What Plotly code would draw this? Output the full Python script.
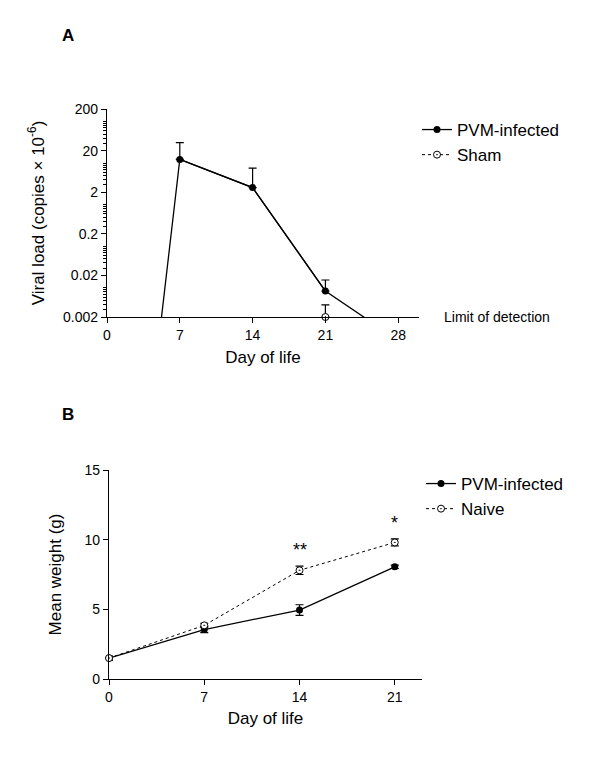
import plotly.graph_objects as go
import numpy as np

# ---------------- Panel A data ----------------
days_a = [0, 7, 14, 21, 28]
pvm_load = [1e-14, 12.3, 2.58, 0.0084, 0.00055]      # copies x 10^-6
pvm_load_err = [0, 18.7, 5.0, 0.0071, 0]
sham_days = [21]
sham_load = [0.002]
sham_load_err = [0.0019]
detection_limit = 0.002
a_ticks = [0.002, 0.02, 0.2, 2, 20, 200]
a_ticktext = ["0.002", "0.02", "0.2", "2", "20", "200"]
a_xticks = [0, 7, 14, 21, 28]

# ---------------- Panel B data ----------------
days_b = [0, 7, 14, 21]
pvm_weight = [1.5, 3.55, 4.95, 8.05]
pvm_weight_err = [0.15, 0.22, 0.38, 0.12]
naive_weight = [1.5, 3.85, 7.8, 9.8]
naive_weight_err = [0.12, 0.15, 0.3, 0.25]
sig_labels = ["", "", "**", "*"]
b_yticks = [0, 5, 10, 15]
b_xticks = [0, 7, 14, 21]

FONT = "Liberation Sans, Arial, sans-serif"
W, H = 600, 759
PAGE_OFFSET = 8  # default page margin around the plot div

def px_x(p):
    return (p - PAGE_OFFSET) / W

def px_y(p):
    return 1 - (p - PAGE_OFFSET) / H

fig = go.Figure()

# ---- Panel A ----
fig.add_trace(go.Scatter(x=days_a, y=pvm_load, mode="lines",
                         line=dict(color="black", width=1.3),
                         xaxis="x", yaxis="y", showlegend=False, hoverinfo="skip"))
idx = [i for i, v in enumerate(pvm_load) if v >= detection_limit]
fig.add_trace(go.Scatter(x=[days_a[i] for i in idx], y=[pvm_load[i] for i in idx],
                         mode="lines+markers", name="PVM-infected",
                         line=dict(color="black", width=1.3),
                         marker=dict(symbol="circle", size=7, color="black"),
                         error_y=dict(type="data", symmetric=False,
                                      array=[pvm_load_err[i] for i in idx],
                                      arrayminus=[0] * len(idx),
                                      color="black", thickness=1.2, width=4),
                         cliponaxis=False, xaxis="x", yaxis="y", legend="legend"))
fig.add_trace(go.Scatter(x=sham_days, y=sham_load, mode="lines+markers", name="Sham",
                         line=dict(color="black", width=1, dash="3px,3px"),
                         marker=dict(symbol="circle-dot", size=7, color="white",
                                     line=dict(color="black", width=1)),
                         error_y=dict(type="data", symmetric=False, array=sham_load_err,
                                      arrayminus=[0] * len(sham_load), color="black",
                                      thickness=1.2, width=4),
                         cliponaxis=False, xaxis="x", yaxis="y", legend="legend"))

# ---- Panel B ----
fig.add_trace(go.Scatter(x=days_b, y=pvm_weight, mode="lines+markers", name="PVM-infected",
                         line=dict(color="black", width=1.3),
                         marker=dict(symbol="circle", size=7, color="black"),
                         error_y=dict(type="data", array=pvm_weight_err, color="black",
                                      thickness=1.2, width=4),
                         cliponaxis=False, xaxis="x2", yaxis="y2", legend="legend2"))
fig.add_trace(go.Scatter(x=days_b, y=naive_weight, mode="lines+markers", name="Naive",
                         line=dict(color="black", width=1, dash="dot"),
                         marker=dict(symbol="circle-dot", size=7, color="white",
                                     line=dict(color="black", width=1)),
                         error_y=dict(type="data", array=naive_weight_err, color="black",
                                      thickness=1.2, width=4),
                         cliponaxis=False, xaxis="x2", yaxis="y2", legend="legend2"))

minor_vals = []
for n in range(-3, 3):
    for k in range(1, 10):
        v = k * 10.0 ** n
        if detection_limit * 0.999 <= v <= 200 * 1.001 and not any(abs(v - t) / t < 1e-6 for t in a_ticks):
            minor_vals.append(v)

axis_common = dict(showgrid=False, zeroline=False, showline=True, linecolor="black",
                   linewidth=1.2, ticks="outside", ticklen=5, tickwidth=1.2,
                   tickcolor="black", automargin=False,
                   tickfont=dict(family=FONT, size=14, color="black"))

annotations = []
for d, w, e, s in zip(days_b, naive_weight, naive_weight_err, sig_labels):
    if s:
        annotations.append(dict(x=d, y=w + e + 0.3, xref="x2", yref="y2", text=s,
                                showarrow=False, yanchor="bottom",
                                font=dict(family=FONT, size=18, color="black")))
annotations.append(dict(x=1.0, y=np.log10(detection_limit), xref="x domain", yref="y",
                        text="Limit of detection", showarrow=False, xanchor="left",
                        yanchor="middle", xshift=23,
                        font=dict(family=FONT, size=14, color="black")))
annotations.append(dict(x=px_x(60), y=px_y(35), xref="paper", yref="paper", text="<b>A</b>",
                        showarrow=False, xanchor="left", yanchor="middle",
                        font=dict(family=FONT, size=17, color="black")))
annotations.append(dict(x=px_x(60), y=px_y(414), xref="paper", yref="paper", text="<b>B</b>",
                        showarrow=False, xanchor="left", yanchor="middle",
                        font=dict(family=FONT, size=17, color="black")))

fig.update_layout(
    width=W, height=H, margin=dict(l=0, r=0, t=0, b=0, autoexpand=False),
    paper_bgcolor="white", plot_bgcolor="white",
    font=dict(family=FONT, color="black"),
    xaxis=dict(domain=[px_x(107), px_x(419)], range=[0, 30], tickvals=a_xticks,
               anchor="y", title=dict(text="Day of life", font=dict(family=FONT, size=17),
                                      standoff=9),
               **axis_common),
    yaxis=dict(domain=[px_y(317), px_y(109)], type="log",
               range=[np.log10(0.002), np.log10(200)], tickvals=a_ticks, ticktext=a_ticktext,
               anchor="x",
               minor=dict(tickmode="array", tickvals=minor_vals, ticks="outside", ticklen=3,
                          tickwidth=1, tickcolor="black"),
               title=dict(text="Viral load (copies × 10<sup>-6</sup>)",
                          font=dict(family=FONT, size=17), standoff=14),
               **axis_common),
    xaxis2=dict(domain=[px_x(109), px_x(422)], range=[0, 23], tickvals=b_xticks,
                anchor="y2", title=dict(text="Day of life", font=dict(family=FONT, size=17),
                                        standoff=8),
                **axis_common),
    yaxis2=dict(domain=[px_y(679), px_y(470)], range=[0, 15], tickvals=b_yticks,
                anchor="x2", title=dict(text="Mean weight (g)", font=dict(family=FONT, size=17),
                                        standoff=18),
                **axis_common),
    legend=dict(x=px_x(417), y=px_y(112), xanchor="left", yanchor="top",
                font=dict(family=FONT, size=17, color="black"), bgcolor="rgba(0,0,0,0)",
                traceorder="normal"),
    legend2=dict(x=px_x(421), y=px_y(466), xanchor="left", yanchor="top",
                 font=dict(family=FONT, size=17, color="black"), bgcolor="rgba(0,0,0,0)",
                 traceorder="normal"),
    annotations=annotations,
    showlegend=True,
)

fig.write_html("out.html")
